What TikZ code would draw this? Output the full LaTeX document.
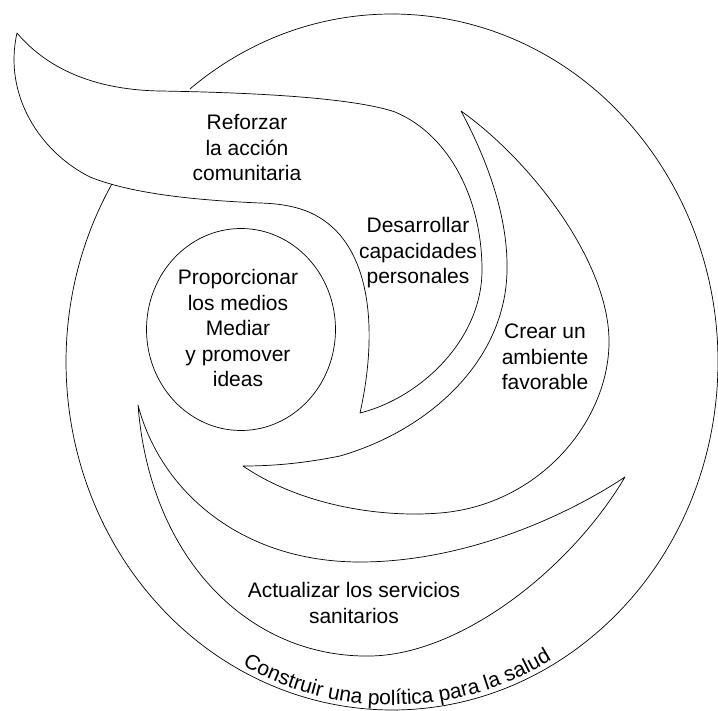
\documentclass[tikz,border=0pt]{standalone}
\usepackage{fontspec}
\setmainfont{Liberation Sans}
\usetikzlibrary{calc,decorations.text}
\begin{document}
\begin{tikzpicture}[x=1pt,y=-1pt,
  shapeline/.style={draw=black,line width=0.7pt,line join=round},
  txt/.style={align=center,font=\fontsize{21}{25.5}\selectfont,inner sep=0pt}]
\useasboundingbox (0,0) rectangle (718,711);
\fill[white] (0,0) rectangle (718,711);

% centre of the large enclosing curve
\coordinate (ctr) at (392,362);

% outer curve: wraps everything and ends on the top band
\draw[shapeline] ($(ctr)+(-128.3:326 and 348)$)
  arc[start angle=-128.3, end angle=210.7, x radius=326, y radius=348];

% top band running into the inner crescent
\draw[shapeline] (17,33)
  .. controls (50,72) and (100,90) .. (160,91)
  .. controls (280,93) and (360,100) .. (395,112)
  .. controls (450,135) and (482,200) .. (482,270)
  .. controls (482,340) and (420,398) .. (360,413)
  .. controls (372,360) and (378,280) .. (340,235)
  .. controls (320,212) and (295,204) .. (260,203)
  .. controls (190,200) and (130,193) .. (90,177)
  .. controls (40,152) and (3,95) .. (17,33) -- cycle;

% right crescent
\draw[shapeline] (461,111)
  .. controls (490,165) and (508,220) .. (507,270)
  .. controls (506,360) and (430,430) .. (340,456)
  .. controls (300,464) and (270,466) .. (243,466)
  .. controls (300,505) and (380,518) .. (440,513)
  .. controls (540,505) and (610,420) .. (609,340)
  .. controls (608,260) and (530,160) .. (461,111) -- cycle;

% lower crescent
\draw[shapeline] (138,405)
  .. controls (160,490) and (240,562) .. (360,562)
  .. controls (460,562) and (560,520) .. (625,477)
  .. controls (570,570) and (460,655) .. (370,656)
  .. controls (250,658) and (150,560) .. (138,405) -- cycle;

% central circle
\coordinate (hub) at (241,329.5);
\draw[shapeline] (hub) ellipse [x radius=94.5, y radius=101];

% labels
\node[txt] (reforzar) at (247,148) {Reforzar\\la acción\\comunitaria};
\node[txt] (desarrollar) at (418,253) {Desarrollar\\capacidades\\personales};
\node[txt] (crear) at (545,357) {Crear un\\ambiente\\favorable};
\node[txt] (medios) at (238,328) {Proporcionar\\los medios\\Mediar\\y promover\\ideas};
\node[txt] (actualizar) at (354,603) {Actualizar los servicios\\sanitarios};

% caption following the bottom of the outer curve
\path[decorate, decoration={text along path, text align=center,
    text={|\fontsize{21}{25.5}\selectfont|Construir una política para la salud}}]
  ($(ctr)+(134:322 and 343)$) arc[start angle=134, end angle=44, x radius=322, y radius=343];
\end{tikzpicture}
\end{document}
